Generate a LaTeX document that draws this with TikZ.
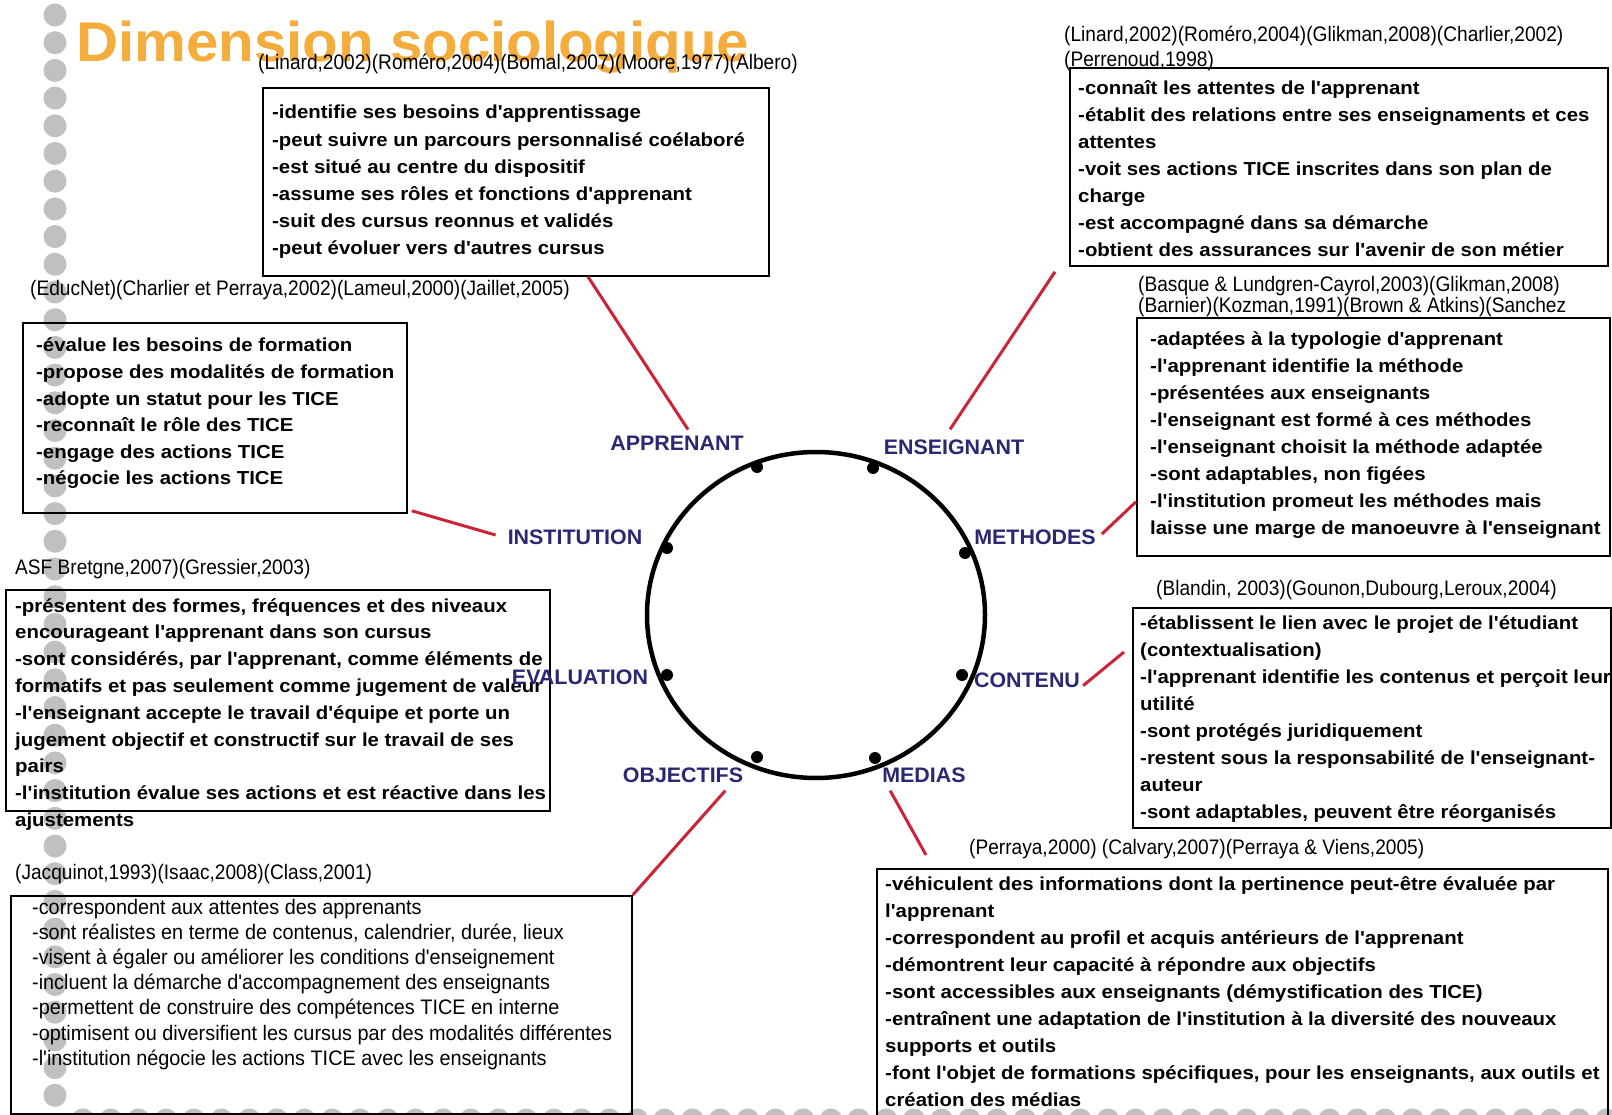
\documentclass[tikz,border=0pt]{standalone}
\usepackage{fontspec}
\setmainfont{Liberation Sans}
\newfontfamily\bodyfont[FakeStretch=1.085]{Liberation Sans}
\newfontfamily\citefont[FakeStretch=0.91]{Liberation Sans}
\newfontfamily\objfont[FakeStretch=0.945]{Liberation Sans}
\newfontfamily\labfont[FakeStretch=1.02]{Liberation Sans}
\newfontfamily\titfont[FakeStretch=1.04]{Liberation Sans}
\usetikzlibrary{calc,shapes.geometric}
\definecolor{navy}{RGB}{40,40,115}
\definecolor{conred}{RGB}{205,35,55}
\definecolor{dotgray}{RGB}{192,192,192}
\definecolor{titleor}{RGB}{244,172,60}
\begin{document}
\begin{tikzpicture}[x=1pt,y=-1pt,
  bodytxt/.style={font=\bodyfont\bfseries\fontsize{18.8}{22}\selectfont, inner sep=0, anchor=base west},
  citetxt/.style={font=\citefont\fontsize{21}{24}\selectfont, inner sep=0, anchor=base west},
  objtxt/.style={font=\objfont\fontsize{21}{24}\selectfont, inner sep=0, anchor=base west},
  labtxt/.style={font=\labfont\bfseries\fontsize{21}{24}\selectfont, text=navy, inner sep=0},
  boxframe/.style={draw=black, line width=1.8pt, inner sep=0, anchor=north west},
  conline/.style={draw=conred, line width=3pt},
  graydot/.style={circle, fill=dotgray, inner sep=0, minimum size=23pt},
  ringdot/.style={circle, fill=black, inner sep=0, minimum size=12pt}]
\clip (0,0) rectangle (1612,1115);
\fill[white] (0,0) rectangle (1612,1115);
% decorative dots
\foreach \i in {0,...,39} \node[graydot] (lc\i) at (55,{15+27.7*\i}) {};
\foreach \i in {0,...,56} \node[graydot] (bc\i) at ({83+27.7*\i},1120) {};
% title
\node[anchor=base west, inner sep=0, font=\titfont\bfseries\fontsize{56}{60}\selectfont, text=titleor] (title) at (76,62) {Dimension sociologique};
% boxes
\node[boxframe, minimum width=506pt, minimum height=188pt] (boxA) at (262,87) {};
\node[boxframe, minimum width=538pt, minimum height=198pt] (boxB) at (1069,67) {};
\node[boxframe, minimum width=384pt, minimum height=190pt] (boxC) at (22,322) {};
\node[boxframe, minimum width=473pt, minimum height=238pt] (boxD) at (1136,317) {};
\node[boxframe, minimum width=544pt, minimum height=221pt] (boxE) at (5,589) {};
\node[boxframe, minimum width=478pt, minimum height=220pt] (boxF) at (1132,607) {};
\node[boxframe, minimum width=621pt, minimum height=218pt] (boxG) at (10,895) {};
\node[boxframe, minimum width=731pt, minimum height=280pt] (boxH) at (876,868) {};
% citations
\node[citetxt] (cA) at (258,70) {(Linard,2002)(Roméro,2004)(Bomal,2007)(Moore,1977)(Albero)};
\node[citetxt] (cB1) at (1064,42) {(Linard,2002)(Roméro,2004)(Glikman,2008)(Charlier,2002)};
\node[citetxt] (cB2) at (1064,67) {(Perrenoud,1998)};
\node[citetxt] (cC) at (30,296) {(EducNet)(Charlier et Perraya,2002)(Lameul,2000)(Jaillet,2005)};
\node[citetxt] (cD1) at (1138,292) {(Basque \& Lundgren-Cayrol,2003)(Glikman,2008)};
\node[citetxt] (cD2) at (1138,313) {(Barnier)(Kozman,1991)(Brown \& Atkins)(Sanchez};
\node[citetxt] (cE) at (15,574) {ASF Bretgne,2007)(Gressier,2003)};
\node[citetxt] (cF) at (1156,595) {(Blandin, 2003)(Gounon,Dubourg,Leroux,2004)};
\node[citetxt] (cG) at (15,879) {(Jacquinot,1993)(Isaac,2008)(Class,2001)};
\node[citetxt] (cH) at (969,854) {(Perraya,2000) (Calvary,2007)(Perraya \& Viens,2005)};
% box texts
\foreach \t [count=\i from 0] in {{-identifie ses besoins d'apprentissage},{-peut suivre un parcours personnalisé coélaboré},{-est situé au centre du dispositif},{-assume ses rôles et fonctions d'apprenant},{-suit des cursus reonnus et validés},{-peut évoluer vers d'autres cursus}}
  \node[bodytxt] (tA\i) at (272,{119+27.2*\i}) {\t};
\foreach \t [count=\i from 0] in {{-connaît les attentes de l'apprenant},{-établit des relations entre ses enseignaments et ces},{attentes},{-voit ses actions TICE inscrites dans son plan de},{charge},{-est accompagné dans sa démarche},{-obtient des assurances sur l'avenir de son métier}}
  \node[bodytxt] (tB\i) at (1078,{95+27*\i}) {\t};
\foreach \t [count=\i from 0] in {{-évalue les besoins de formation},{-propose des modalités de formation},{-adopte un statut pour les TICE},{-reconnaît le rôle des TICE},{-engage des actions TICE},{-négocie les actions TICE}}
  \node[bodytxt] (tC\i) at (36,{352+26.5*\i}) {\t};
\foreach \t [count=\i from 0] in {{-adaptées à la typologie d'apprenant},{-l'apprenant identifie la méthode},{-présentées aux enseignants},{-l'enseignant est formé à ces méthodes},{-l'enseignant choisit la méthode adaptée},{-sont adaptables, non figées},{-l'institution promeut les méthodes mais},{laisse une marge de manoeuvre à l'enseignant}}
  \node[bodytxt] (tD\i) at (1150,{345+27*\i}) {\t};
\foreach \t [count=\i from 0] in {{-présentent des formes, fréquences et des niveaux},{encourageant l'apprenant dans son cursus},{-sont considérés, par l'apprenant, comme éléments de},{formatifs et pas seulement comme jugement de valeur},{-l'enseignant accepte le travail d'équipe et porte un},{jugement objectif et constructif sur le travail de ses},{pairs},{-l'institution évalue ses actions et est réactive dans les},{ajustements}}
  \node[bodytxt] (tE\i) at (15,{612+26.8*\i}) {\t};
\foreach \t [count=\i from 0] in {{-établissent le lien avec le projet de l'étudiant},{(contextualisation)},{-l'apprenant identifie les contenus et perçoit leur},{utilité},{-sont protégés juridiquement},{-restent sous la responsabilité de l'enseignant-},{auteur},{-sont adaptables, peuvent être réorganisés}}
  \node[bodytxt] (tF\i) at (1140,{629+27*\i}) {\t};
\foreach \t [count=\i from 0] in {{-correspondent aux attentes des apprenants},{-sont réalistes en terme de contenus, calendrier, durée, lieux},{-visent à égaler ou améliorer les conditions d'enseignement},{-incluent la démarche d'accompagnement des enseignants},{-permettent de construire des compétences TICE en interne},{-optimisent ou diversifient les cursus par des modalités différentes},{-l'institution négocie les actions TICE avec les enseignants}}
  \node[objtxt] (tG\i) at (32,{914+25.2*\i}) {\t};
\foreach \t [count=\i from 0] in {{-véhiculent des informations dont la pertinence peut-être évaluée par},{l'apprenant},{-correspondent au profil et acquis antérieurs de l'apprenant},{-démontrent leur capacité à répondre aux objectifs},{-sont accessibles aux enseignants (démystification des TICE)},{-entraînent une adaptation de l'institution à la diversité des nouveaux},{supports et outils},{-font l'objet de formations spécifiques, pour les enseignants, aux outils et},{création des médias}}
  \node[bodytxt] (tH\i) at (885,{890+27.1*\i}) {\t};
% central ring
\node[draw=black, ellipse, line width=4.5pt, minimum width=338pt, minimum height=326pt, inner sep=0] (ring) at (816,615) {};
\node[ringdot] (d1) at (757,467) {};
\node[ringdot] (d2) at (873,468) {};
\node[ringdot] (d3) at (965,553) {};
\node[ringdot] (d4) at (962,675) {};
\node[ringdot] (d5) at (875,758) {};
\node[ringdot] (d6) at (757,757) {};
\node[ringdot] (d7) at (667,675) {};
\node[ringdot] (d8) at (667,548) {};
% labels
\node[labtxt] (lApp) at (677,443) {APPRENANT};
\node[labtxt] (lEns) at (954,447) {ENSEIGNANT};
\node[labtxt] (lInst) at (575,537) {INSTITUTION};
\node[labtxt] (lMeth) at (1035,537) {METHODES};
\node[labtxt] (lEval) at (580,677) {EVALUATION};
\node[labtxt] (lCont) at (1027,680) {CONTENU};
\node[labtxt] (lObj) at (683,775) {OBJECTIFS};
\node[labtxt] (lMed) at (924,775) {MEDIAS};
% connectors
\draw[conline] ($(boxA.south west)+(326,0)$) -- ($(lApp.north)+(11,-6)$);
\draw[conline] ($(boxB.south west)+(-14,5)$) -- ($(lEns.north)+(-4,-10)$);
\draw[conline] ($(boxC.south east)+(4,-3)$) -- ($(lInst.west)+(-12,-2)$);
\draw[conline] ($(lMeth.east)+(6,-3)$) -- ($(boxD.south west)+(0,-55)$);
\draw[conline] ($(lCont.south east)+(3,-2)$) -- ($(boxF.north west)+(-8,45)$);
\draw[conline] ($(lObj.south east)+(-18,8)$) -- (boxG.north east);
\draw[conline] ($(lMed.south west)+(8,8)$) -- ($(boxH.north west)+(50,-13)$);
\end{tikzpicture}
\end{document}
